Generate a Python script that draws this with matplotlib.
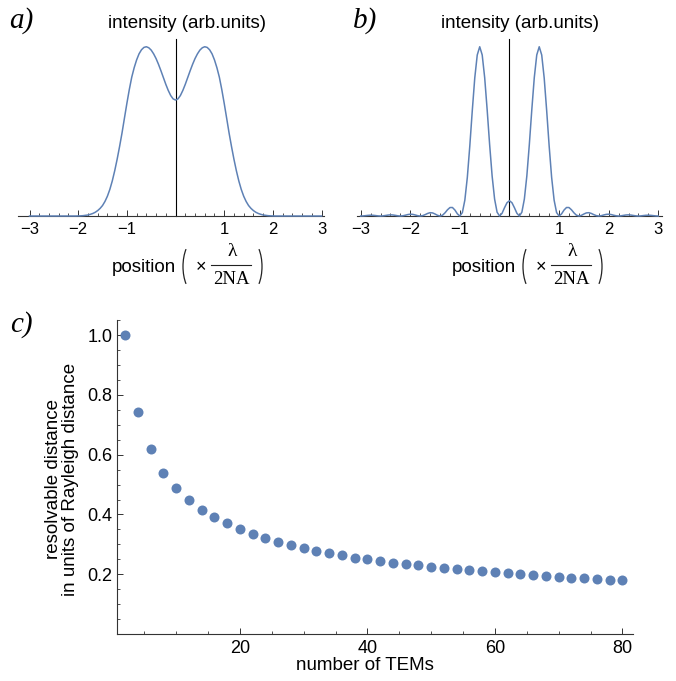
import numpy as np
import matplotlib
matplotlib.use("Agg")
import matplotlib.pyplot as plt
from matplotlib.lines import Line2D
from matplotlib.patches import Arc
from matplotlib.ticker import FixedLocator, MultipleLocator, FormatStrFormatter

plt.rcParams['font.family'] = ['Liberation Sans', 'DejaVu Sans']

# --- datos ---
# posiciones de muestreo de los perfiles (en unidades de lambda/2NA)
position = np.linspace(-3, 3, 121)

# a) perfil de intensidad ancho (dos picos solapados)
intensity_a = [
    0, 0, 0, 0, 0, 0, 0, 0, 0, 0,
    0, 0, 0, 0, 0, 0, 0, 0, 0, 0,
    0.0005, 0.001, 0.002, 0.004, 0.006, 0.010, 0.015, 0.022, 0.032, 0.045,
    0.062, 0.086, 0.117, 0.157, 0.207, 0.267, 0.335, 0.410, 0.490, 0.578,
    0.665, 0.747, 0.820, 0.876, 0.922, 0.958, 0.982, 0.996, 1.000, 0.994,
    0.980, 0.958, 0.930, 0.896, 0.858, 0.818, 0.778, 0.742, 0.712, 0.692,
    0.685,
    0.692, 0.712, 0.742, 0.778, 0.818, 0.858, 0.896, 0.930, 0.958, 0.980,
    0.994, 1.000, 0.996, 0.982, 0.958, 0.922, 0.876, 0.820, 0.747, 0.665,
    0.578, 0.490, 0.410, 0.335, 0.267, 0.207, 0.157, 0.117, 0.086, 0.062,
    0.045, 0.032, 0.022, 0.015, 0.010, 0.006, 0.004, 0.002, 0.001, 0.0005,
    0, 0, 0, 0, 0, 0, 0, 0, 0, 0,
    0, 0, 0, 0, 0, 0, 0, 0, 0, 0,
]

# b) perfil de intensidad estrecho (picos separados con lobulos)
intensity_b = [
    0, 0.0006, 0.0022, 0.0039, 0.0048, 0.0042, 0.0026, 0.0008, 0, 0.0009,
    0.0031, 0.0055, 0.0068, 0.0061, 0.0038, 0.0012, 0, 0.0013, 0.0047, 0.0086,
    0.0107, 0.0097, 0.0061, 0.0019, 0, 0.0022, 0.0082, 0.0153, 0.0196, 0.0183,
    0.0118, 0.0039, 0, 0.0048, 0.0188, 0.0368, 0.0500, 0.0503, 0.0352, 0.0126,
    0, 0.0204, 0.0937, 0.2280, 0.4136, 0.6226, 0.8154, 0.9512, 1.0, 0.9515,
    0.8173, 0.6276, 0.4215, 0.2367, 0.1001, 0.0227, 0, 0.0159, 0.0490, 0.0785,
    0.0901,
    0.0785, 0.0490, 0.0159, 0, 0.0227, 0.1001, 0.2367, 0.4215, 0.6276, 0.8173,
    0.9515, 1.0, 0.9512, 0.8154, 0.6226, 0.4136, 0.2280, 0.0937, 0.0204, 0,
    0.0126, 0.0352, 0.0503, 0.0500, 0.0368, 0.0188, 0.0048, 0, 0.0039, 0.0118,
    0.0183, 0.0196, 0.0153, 0.0082, 0.0022, 0, 0.0019, 0.0061, 0.0097, 0.0107,
    0.0086, 0.0047, 0.0013, 0, 0.0012, 0.0038, 0.0061, 0.0068, 0.0055, 0.0031,
    0.0009, 0, 0.0008, 0.0026, 0.0042, 0.0048, 0.0039, 0.0022, 0.0006, 0,
]

# c) distancia resoluble frente al numero de TEMs
n_tems = list(range(2, 81, 2))
resolvable = [
    1.000, 0.743, 0.620, 0.540, 0.489, 0.448, 0.415, 0.390, 0.370, 0.351,
    0.336, 0.322, 0.308, 0.298, 0.289, 0.278, 0.270, 0.264, 0.256, 0.251,
    0.246, 0.239, 0.235, 0.230, 0.225, 0.221, 0.217, 0.213, 0.210, 0.208,
    0.203, 0.200, 0.198, 0.194, 0.191, 0.189, 0.187, 0.183, 0.181, 0.180,
]

profile_ticks = [-3, -2, -1, 1, 2, 3]

BLUE = '#5E81B5'
AXIS = '#333333'
W, H = 676, 681

fig = plt.figure(figsize=(6.76, 6.81), dpi=100)


def px(x, y):
    # pixeles de la imagen -> coordenadas de figura
    return x / W, 1 - y / H


def parentesis(xc, yc, theta1, theta2):
    # parentesis fino dibujado como arco de elipse (semiejes 13 x 27 px)
    fig.add_artist(Arc(px(xc, yc), 26 / W, 54 / H, theta1=theta1, theta2=theta2,
                       color='#222222', lw=0.9, transform=fig.transFigure))


def etiqueta_posicion(x0):
    # "position ( x lambda / 2NA )" armado a mano, x0 = centro de la fraccion
    y0 = 267
    fig.text(*px(x0 - 56, y0 + 1), 'position', ha='right', va='center', fontsize=13.5)
    parentesis(x0 - 49 + 13, y0 - 0.5, 120, 240)
    parentesis(x0 + 30 - 13, y0 - 0.5, -60, 60)
    fig.text(*px(x0 - 31, y0 + 1), '×', ha='center', va='center', fontsize=13)
    fig.text(*px(x0, 252), 'λ', ha='center', va='center', fontsize=14,
             fontfamily='Liberation Serif')
    fig.text(*px(x0 - 1, 279), '2NA', ha='center', va='center', fontsize=13.5,
             fontfamily='Liberation Serif')
    xa, ya = px(x0 - 21, 265)
    xb, _ = px(x0 + 19, 265)
    fig.add_artist(Line2D([xa, xb], [ya, ya], color='#222222', lw=0.8,
                          transform=fig.transFigure))


def dibujar_perfil(rect, xlim, y, text_x):
    ax = fig.add_axes(rect)
    ax.plot(position, y, color=BLUE, lw=1.1, clip_on=False, zorder=3)
    ax.set_xlim(*xlim)
    ax.set_ylim(0, 1.044)
    for s in ['top', 'right']:
        ax.spines[s].set_visible(False)
    ax.spines['left'].set_position(('data', 0))
    ax.spines['left'].set_color('black')
    ax.spines['left'].set_linewidth(0.8)
    ax.spines['bottom'].set_color(AXIS)
    ax.spines['bottom'].set_linewidth(0.8)
    ax.set_yticks([])
    ax.set_xticks(profile_ticks)
    minor = [v for v in np.round(np.arange(-3, 3.01, 0.2), 1) if abs(v - round(v)) > 1e-6]
    ax.xaxis.set_minor_locator(FixedLocator(minor))
    ax.tick_params(axis='x', which='major', direction='in', length=4, width=0.7,
                   color=AXIS, labelsize=12, pad=4)
    ax.tick_params(axis='x', which='minor', direction='in', length=2.2, width=0.6, color=AXIS)
    ax.text(text_x, 1.087, 'intensity (arb.units)', transform=ax.get_xaxis_transform(),
            ha='center', va='center', fontsize=13.5)
    return ax


dibujar_perfil([0.0271, 0.6828, 0.4522, 0.2595], (-3.23, 3.05), intensity_a, 0.24)
dibujar_perfil([0.5277, 0.6828, 0.4512, 0.2595], (-3.08, 3.07), intensity_b, 0.21)
etiqueta_posicion(232)
etiqueta_posicion(572)

# --- panel c ---
ax = fig.add_axes([0.1726, 0.069, 0.7633, 0.4607])
ax.plot(n_tems, resolvable, 'o', ms=7.2, color=BLUE, mec='none', clip_on=False, zorder=3)
ax.set_xlim(0.67, 81.6)
ax.set_ylim(0, 1.05)
for s in ['top', 'right']:
    ax.spines[s].set_visible(False)
for s in ['left', 'bottom']:
    ax.spines[s].set_color(AXIS)
    ax.spines[s].set_linewidth(0.8)
ax.set_xticks([20, 40, 60, 80])
ax.xaxis.set_minor_locator(MultipleLocator(5))
ax.set_yticks([0.2, 0.4, 0.6, 0.8, 1.0])
ax.yaxis.set_minor_locator(MultipleLocator(0.05))
ax.yaxis.set_major_formatter(FormatStrFormatter('%.1f'))
ax.tick_params(which='major', direction='in', length=4, width=0.7, color=AXIS, labelsize=13)
ax.tick_params(which='minor', direction='in', length=2.2, width=0.6, color=AXIS)
ax.tick_params(axis='x', pad=4)
ax.tick_params(axis='y', pad=3)

fig.text(*px(365, 665), 'number of TEMs', ha='center', va='center', fontsize=13.5)
fig.text(*px(62, 479), 'resolvable distance\nin units of Rayleigh distance',
         rotation=90, ha='center', va='center', multialignment='center', fontsize=13.5,
         linespacing=0.95)

# etiquetas de los paneles
for txt, x, y in [('a)', 21, 21), ('b)', 365, 21), ('c)', 21, 325)]:
    fig.text(*px(x, y), txt, ha='center', va='center', fontsize=21,
             fontfamily='Liberation Serif', style='italic')

fig.savefig('out.png', dpi=100)
